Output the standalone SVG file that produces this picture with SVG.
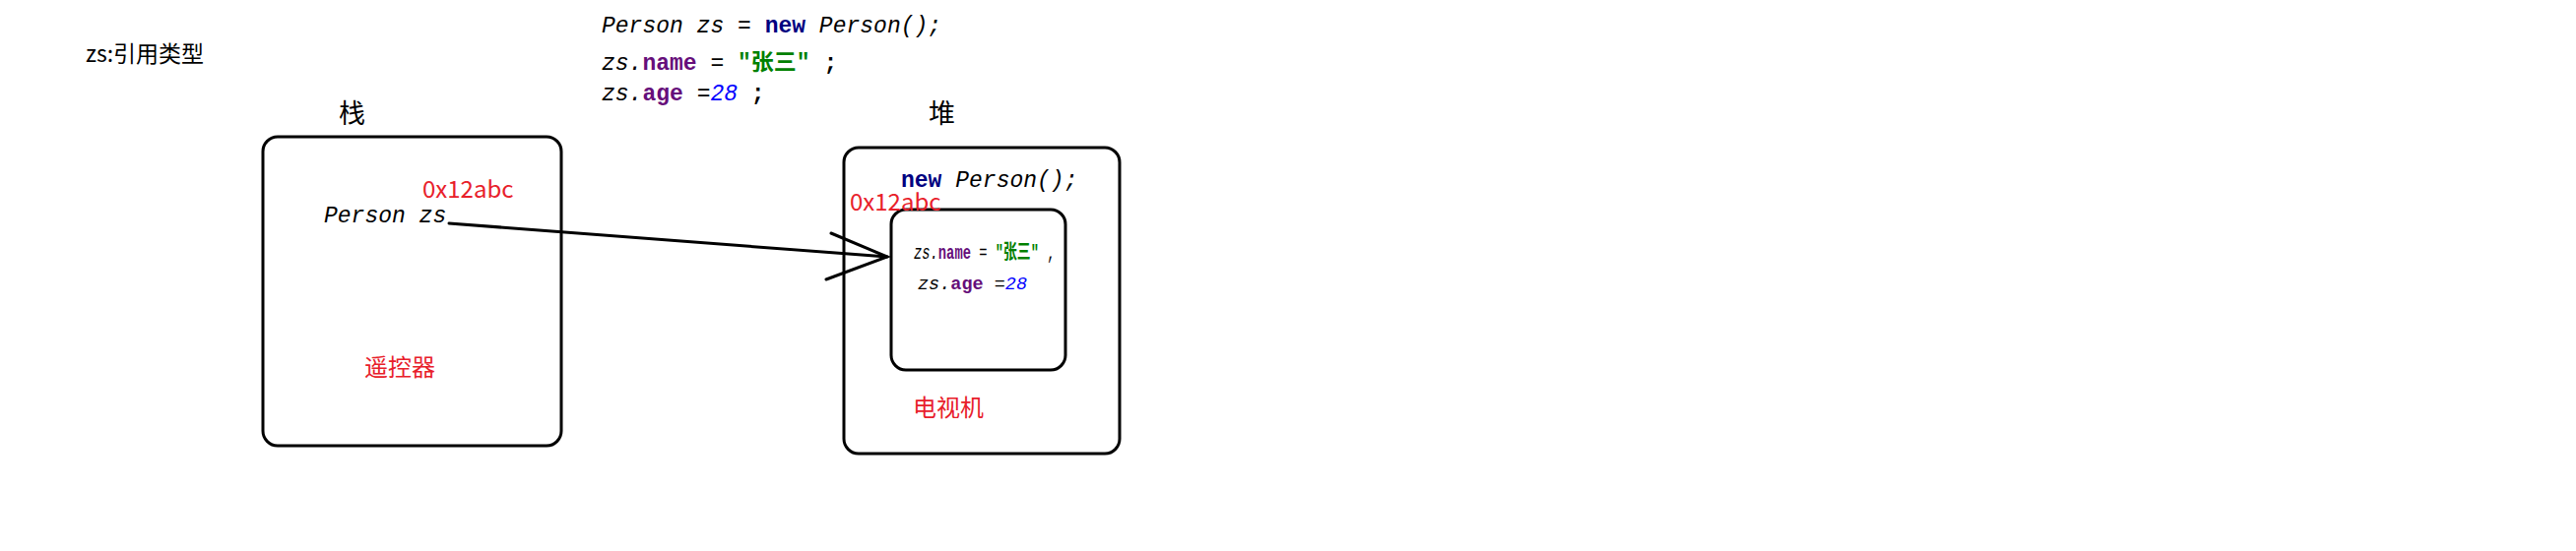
<svg xmlns="http://www.w3.org/2000/svg" width="2616" height="560" viewBox="0 0 2616 560">
<style>
.bg{fill:#ffffff}
.box{fill:none;stroke:#000;stroke-width:3}
.mono{font-family:"Liberation Mono","DejaVu Sans Mono",monospace}
.it{font-style:italic}
.kw{font-weight:bold;fill:#000080}
.fld{font-weight:bold;fill:#660E7A}
.str{font-weight:bold;fill:#008000;font-family:"Liberation Mono","Noto Sans CJK SC",monospace}
.num{font-style:italic;fill:#0000FF}
.red{font-family:"Noto Sans CJK SC","Liberation Sans",sans-serif;fill:#E8202A}
.lbl{font-family:"Noto Sans CJK SC","Liberation Sans",sans-serif;fill:#000}
.conn{fill:none;stroke:#000;stroke-width:3;stroke-linecap:round}
</style>
<rect class="bg" x="0" y="0" width="2616" height="560"/>

<g id="title">
<text class="lbl" x="87" y="63" font-size="23">zs:引用类型</text>
</g>

<g id="code">
<text class="mono" x="611" y="33" font-size="23"><tspan class="it">Person zs = </tspan><tspan class="kw">new</tspan><tspan class="it"> Person();</tspan></text>
<text class="mono" x="611" y="71" font-size="23"><tspan class="it">zs.</tspan><tspan class="fld">name</tspan><tspan> = </tspan><tspan class="str">"张三"</tspan><tspan font-weight="bold"> ;</tspan></text>
<text class="mono" x="611" y="102" font-size="23"><tspan class="it">zs.</tspan><tspan class="fld">age</tspan><tspan> =</tspan><tspan class="num">28</tspan><tspan font-weight="bold"> ;</tspan></text>
</g>

<g id="stack">
<text class="lbl" x="344" y="125" font-size="27">栈</text>
<rect class="box" x="267" y="139" width="303" height="314" rx="15" ry="15"/>
<text class="red" x="429" y="201" font-size="24">0x12abc</text>
<text class="mono it" x="329" y="226" font-size="23">Person zs</text>
<text class="red" x="370" y="382" font-size="24">遥控器</text>
</g>

<g id="heap">
<text class="lbl" x="943" y="125" font-size="27">堆</text>
<rect class="box" x="857" y="150" width="280" height="311" rx="15" ry="15"/>
<text class="mono" x="915" y="190" font-size="23"><tspan class="kw">new</tspan><tspan class="it"> Person();</tspan></text>
<text class="red" x="927" y="423" font-size="24">电视机</text>
</g>

<g id="object">
<rect class="box" x="905" y="213" width="177" height="163" rx="15" ry="15"/>
<text class="red" x="863" y="214" font-size="24">0x12abc</text>
<text class="mono" transform="translate(928,263) scale(0.69,1)" x="0" y="0" font-size="20"><tspan class="it">zs.</tspan><tspan class="fld">name</tspan><tspan> = </tspan><tspan class="str">"张三"</tspan><tspan> ,</tspan></text>
<text class="mono" x="932" y="294" font-size="18" textLength="111" lengthAdjust="spacingAndGlyphs"><tspan class="it">zs.</tspan><tspan class="fld">age</tspan><tspan> =</tspan><tspan class="num">28</tspan></text>
</g>

<g id="connectors">
<line class="conn" x1="456" y1="227" x2="901" y2="261"/>
<polyline class="conn" points="844,237 901,261 839,284"/>
</g>
</svg>
